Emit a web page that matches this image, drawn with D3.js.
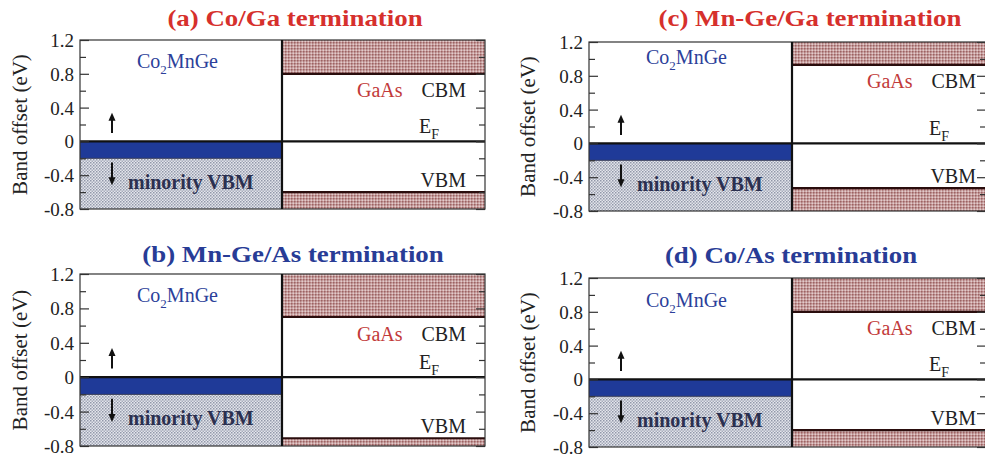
<!DOCTYPE html>
<html>
<head>
<meta charset="utf-8">
<script src="https://cdn.jsdelivr.net/npm/d3@7"></script>
<style>
  html, body { margin: 0; padding: 0; background: #fff; }
  svg { display: block; }
  text { font-family: "Liberation Serif", "Times New Roman", serif; }
</style>
</head>
<body>
<svg id="chart" width="985" height="461"></svg>
<script>
// Band alignment at Co2MnGe/GaAs interfaces for four terminations
const panelIds   = ["a", "b", "c", "d"];
const titles     = ["(a) Co/Ga termination", "(b) Mn-Ge/As termination",
                    "(c) Mn-Ge/Ga termination", "(d) Co/As termination"];
const gaasCBM    = [0.80, 0.70, 0.93, 0.80];     // GaAs conduction band minimum (eV)
const gaasVBM    = [-0.60, -0.71, -0.53, -0.60]; // GaAs valence band maximum (eV)
const minorityVBM = [-0.20, -0.20, -0.20, -0.20]; // Co2MnGe minority-spin VBM (eV)
const fermiLevel = 0;
const yDomain    = [-0.8, 1.2];
const majorTicks = [-0.8, -0.4, 0, 0.4, 0.8, 1.2];
const minorTicks = [-0.6, -0.2, 0.2, 0.6, 1.0];
const tickLabels = ["-0.8", "-0.4", "0", "0.4", "0.8", "1.2"];

// Panel frames on the page
const layout = {
  a: { x0: 80,  xm: 282, x1: 485, yTop: 40,  yBot: 209, tx: 295, ty: 26,  color: "#d6302c", labX: 20,  coY: 0.87 },
  b: { x0: 80,  xm: 282, x1: 485, yTop: 274, yBot: 446, tx: 293, ty: 262, color: "#283c96", labX: 20,  coY: 0.87 },
  c: { x0: 589, xm: 792, x1: 986, yTop: 42,  yBot: 211, tx: 810, ty: 26,  color: "#d6302c", labX: 528, coY: 0.94 },
  d: { x0: 589, xm: 792, x1: 986, yTop: 278, yBot: 447, tx: 791, ty: 263, color: "#283c96", labX: 528, coY: 0.86 }
};

const serif = "Liberation Serif, Times New Roman, serif";
const svg = d3.select("#chart");
const defs = svg.append("defs");

// stippled fill for the Co2MnGe minority valence band
const dotPat = defs.append("pattern").attr("id", "dots").attr("patternUnits", "userSpaceOnUse")
  .attr("width", 3).attr("height", 3);
dotPat.append("rect").attr("width", 3).attr("height", 3).attr("fill", "#e4e6ec");
dotPat.append("rect").attr("width", 1.5).attr("height", 1.5).attr("fill", "#9197a9");
dotPat.append("rect").attr("x", 1.5).attr("y", 1.5).attr("width", 1.5).attr("height", 1.5).attr("fill", "#a6abba");

// checkered fill for the GaAs bands
const hatPat = defs.append("pattern").attr("id", "hatch").attr("patternUnits", "userSpaceOnUse")
  .attr("width", 3).attr("height", 3);
hatPat.append("rect").attr("width", 3).attr("height", 3).attr("fill", "#c49b9b");
hatPat.append("rect").attr("width", 1.5).attr("height", 1.5).attr("fill", "#9c6262");
hatPat.append("rect").attr("x", 1.5).attr("y", 1.5).attr("width", 1.5).attr("height", 1.5).attr("fill", "#e3cbcb");

panelIds.forEach((id, i) => {
  const L = layout[id];
  const y = d3.scaleLinear().domain(yDomain).range([L.yBot, L.yTop]);
  const x = d3.scaleLinear().domain([0, 1, 2]).range([L.x0, L.xm, L.x1]);
  const g = svg.append("g");

  // clip to the plotting box
  const clipId = "clip-" + id;
  defs.append("clipPath").attr("id", clipId).append("rect")
    .attr("x", L.x0).attr("y", L.yTop).attr("width", L.x1 - L.x0).attr("height", L.yBot - L.yTop);
  const body = g.append("g").attr("clip-path", `url(#${clipId})`);

  body.append("rect").attr("x", x(0)).attr("y", y(yDomain[1]))
    .attr("width", x(2) - x(0)).attr("height", y(yDomain[0]) - y(yDomain[1])).attr("fill", "#fff");

  // Co2MnGe side: minority valence band and the strip up to E_F
  body.append("rect").attr("x", x(0)).attr("y", y(minorityVBM[i]))
    .attr("width", x(1) - x(0)).attr("height", y(yDomain[0]) - y(minorityVBM[i]))
    .attr("fill", "url(#dots)");
  body.append("rect").attr("x", x(0)).attr("y", y(fermiLevel))
    .attr("width", x(1) - x(0)).attr("height", y(minorityVBM[i]) - y(fermiLevel))
    .attr("fill", "#1f3a98");
  body.append("line").attr("x1", x(0)).attr("x2", x(1))
    .attr("y1", y(minorityVBM[i])).attr("y2", y(minorityVBM[i]))
    .attr("stroke", "#3a3f5a").attr("stroke-width", 1);

  // GaAs side: conduction and valence bands
  body.append("rect").attr("x", x(1)).attr("y", y(yDomain[1]))
    .attr("width", x(2) - x(1)).attr("height", y(gaasCBM[i]) - y(yDomain[1]))
    .attr("fill", "url(#hatch)");
  body.append("rect").attr("x", x(1)).attr("y", y(gaasVBM[i]))
    .attr("width", x(2) - x(1)).attr("height", y(yDomain[0]) - y(gaasVBM[i]))
    .attr("fill", "url(#hatch)");
  [gaasCBM[i], gaasVBM[i]].forEach(v => {
    body.append("line").attr("x1", x(1)).attr("x2", x(2)).attr("y1", y(v)).attr("y2", y(v))
      .attr("stroke", "#2a0d0d").attr("stroke-width", 2.2);
  });

  // Fermi level and interface
  body.append("line").attr("x1", x(0)).attr("x2", x(2)).attr("y1", y(fermiLevel)).attr("y2", y(fermiLevel))
    .attr("stroke", "#111").attr("stroke-width", 2.2);

  // frame
  g.append("rect").attr("x", L.x0).attr("y", L.yTop).attr("width", L.x1 - L.x0).attr("height", L.yBot - L.yTop)
    .attr("fill", "none").attr("stroke", "#333").attr("stroke-width", 1.2);
  g.append("line").attr("x1", x(1)).attr("x2", x(1)).attr("y1", y(yDomain[1])).attr("y2", y(yDomain[0]))
    .attr("stroke", "#111").attr("stroke-width", 2.2);

  // axes: inward ticks on both sides
  const leftMajor = d3.axisLeft(y).tickValues(majorTicks).tickSize(-9).tickPadding(15)
    .tickFormat((d, k) => tickLabels[k]);
  const leftMinor = d3.axisLeft(y).tickValues(minorTicks).tickSize(-6).tickFormat("");
  const rightMajor = d3.axisRight(y).tickValues(majorTicks).tickSize(-9).tickFormat("");
  const rightMinor = d3.axisRight(y).tickValues(minorTicks).tickSize(-6).tickFormat("");

  const axL = g.append("g").attr("transform", `translate(${L.x0},0)`).call(leftMajor);
  g.append("g").attr("transform", `translate(${L.x0},0)`).call(leftMinor);
  g.append("g").attr("transform", `translate(${L.x1},0)`).call(rightMajor);
  g.append("g").attr("transform", `translate(${L.x1},0)`).call(rightMinor);
  g.selectAll(".domain").remove();
  g.selectAll(".tick line").attr("stroke", "#333").attr("stroke-width", 1.2);
  axL.selectAll(".tick text").attr("x", -6).attr("dy", "0.34em")
    .attr("font-family", serif).attr("font-size", 19).attr("fill", "#222");

  // axis title
  g.append("text").attr("transform", `translate(${L.labX},${(L.yTop + L.yBot) / 2}) rotate(-90)`)
    .attr("text-anchor", "middle").attr("dy", "0.35em").attr("font-size", 21).attr("fill", "#222")
    .text("Band offset (eV)");

  // panel title
  g.append("text").attr("transform", `translate(${L.tx},${L.ty}) scale(1.12,1)`)
    .attr("text-anchor", "middle").attr("font-size", 24).attr("font-weight", "bold")
    .attr("fill", L.color).text(titles[i]);

  // material labels
  const co = g.append("text").attr("x", L.x0 + 57).attr("y", y(L.coY))
    .attr("font-size", 20).attr("fill", "#2c3f9a");
  co.append("tspan").text("Co");
  co.append("tspan").attr("font-size", 13).attr("dy", 6).text("2");
  co.append("tspan").attr("dy", -6).text("MnGe");

  g.append("text").attr("x", L.xm + 75).attr("y", y(gaasCBM[i] - 0.28))
    .attr("font-size", 20).attr("fill", "#c23a3a").text("GaAs");
  g.append("text").attr("x", L.xm + 184).attr("y", y(gaasCBM[i] - 0.28))
    .attr("text-anchor", "end").attr("font-size", 20).attr("fill", "#222").text("CBM");
  g.append("text").attr("x", L.xm + 184).attr("y", y(gaasVBM[i] + 0.06))
    .attr("text-anchor", "end").attr("font-size", 20).attr("fill", "#222").text("VBM");
  const ef = g.append("text").attr("x", L.xm + 137).attr("y", y(fermiLevel + 0.1))
    .attr("font-size", 20).attr("fill", "#222");
  ef.append("tspan").text("E");
  ef.append("tspan").attr("font-size", 14).attr("dy", 6).text("F");

  g.append("text").attr("x", L.x0 + 48).attr("y", y(minorityVBM[i] - 0.36))
    .attr("font-size", 20).attr("font-weight", "bold").attr("fill", "#2b3050")
    .text("minority VBM");

  // spin arrows
  const ax = L.x0 + 32;
  const arrow = (from, to) => {
    const dir = Math.sign(y(to) - y(from));
    g.append("line").attr("x1", ax).attr("x2", ax).attr("y1", y(from)).attr("y2", y(to) - dir * 6)
      .attr("stroke", "#111").attr("stroke-width", 2);
    g.append("path")
      .attr("d", `M${ax - 3.5},${y(to) - dir * 8} L${ax + 3.5},${y(to) - dir * 8} L${ax},${y(to)} Z`)
      .attr("fill", "#111");
  };
  arrow(0.1, 0.34);
  arrow(-0.25, -0.52);
});
</script>
</body>
</html>
